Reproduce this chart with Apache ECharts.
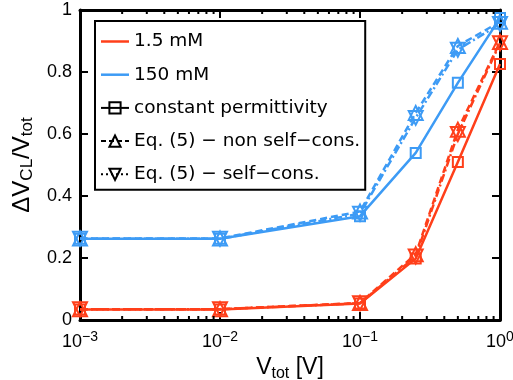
<!DOCTYPE html>
<html>
<head>
<meta charset="utf-8">
<script src="https://cdn.jsdelivr.net/npm/echarts@6/dist/echarts.min.js"></script>
<style>
html,body{margin:0;padding:0;background:#fff;}
#chart{width:513px;height:380px;}
</style>
</head>
<body>
<div id="chart"></div>
<script>
// ---- data ----
var xValues = [0.001, 0.01, 0.1, 0.25, 0.5, 1];
var red_const   = [0.034, 0.034, 0.053, 0.198, 0.510, 0.826];
var red_nonself = [0.035, 0.035, 0.055, 0.212, 0.614, 0.897];
var red_self    = [0.035, 0.035, 0.054, 0.205, 0.600, 0.893];
var blue_const   = [0.262, 0.262, 0.335, 0.539, 0.765, 0.974];
var blue_nonself = [0.263, 0.263, 0.350, 0.668, 0.884, 0.962];
var blue_self    = [0.262, 0.262, 0.343, 0.652, 0.872, 0.955];
var xTickExps = ['−3', '−2', '−1', '0'];
var yTickLabels = ['0', '0.2', '0.4', '0.6', '0.8', '1'];
var minorTicks = [0.002,0.003,0.004,0.005,0.006,0.007,0.008,0.009,
                  0.02,0.03,0.04,0.05,0.06,0.07,0.08,0.09,
                  0.2,0.3,0.4,0.5,0.6,0.7,0.8,0.9];
var legendNames = ['1.5 mM', '150 mM', 'constant permittivity', 'Eq. (5) − non self−cons.', 'Eq. (5) − self−cons.'];

var RED = '#ff3f1a', BLUE = '#3d9bf5';
var FONT = 'Liberation Sans, Arial, Helvetica, sans-serif';
var LFONT = 'DejaVu Sans, sans-serif';
var DASH = [7, 4], DASHDOT = [8, 3, 2, 3];

function pairs(arr){ return xValues.map(function(x,i){ return [x, arr[i]]; }); }

function dataSeries(arr, color, kind){
  var s = {
    type: 'line', data: pairs(arr), z: color === RED ? 4 : 3,
    lineStyle: {color: color, width: 2.5, type: 'solid'},
    itemStyle: {color: 'transparent', borderColor: color, borderWidth: 2},
    symbol: 'rect', symbolSize: 10, showSymbol: true, silent: true, animation: false
  };
  if (kind === 'nonself') { s.lineStyle.type = DASH; s.symbol = 'triangle'; s.symbolSize = 14; }
  if (kind === 'self') { s.lineStyle.type = DASHDOT; s.symbol = 'triangle'; s.symbolSize = 14; s.symbolRotate = 180; }
  return s;
}

function legendSeries(name, color, kind){
  var s = {type:'line', name: name, data: [], animation:false,
    lineStyle:{color: color, width: 2.5, type: 'solid'},
    itemStyle:{color: color}};
  if (kind) {
    s.itemStyle = {color: 'transparent', borderColor: color, borderWidth: 2};
    s.symbol = kind === 'const' ? 'rect' : 'triangle';
    if (kind === 'nonself') s.lineStyle.type = [5, 3];
    if (kind === 'self') { s.lineStyle.type = [2, 3]; s.symbolRotate = 180; }
  }
  return s;
}

var lineIcon = 'path://M0,0 L28,0 L28,2.5 L0,2.5 Z';

var chart = echarts.init(document.getElementById('chart'), null, {renderer:'canvas'});
var option = {
  animation: false,
  backgroundColor: '#fff',
  grid: {left: 80, right: 13, top: 10, bottom: 60, containLabel: false, outerBoundsMode: 'none'},
  legend: {
    orient: 'vertical', left: 95, top: 21,
    itemWidth: 28, itemHeight: 14, itemGap: 14.2,
    padding: [11, 5, 6, 5],
    borderColor: '#000', borderWidth: 2, backgroundColor: '#fff',
    textStyle: {fontFamily: LFONT, fontSize: 18.5, color: '#000'},
    selectedMode: false,
    data: [
      {name: legendNames[0], icon: lineIcon},
      {name: legendNames[1], icon: lineIcon},
      {name: legendNames[2]},
      {name: legendNames[3]},
      {name: legendNames[4]}
    ]
  },
  xAxis: [{
    type: 'log', logBase: 10, min: 0.001, max: 1, position: 'bottom',
    axisLine: {show: true, onZero: false, lineStyle: {color: '#000', width: 3}},
    axisTick: {show: true, inside: true, length: 8, lineStyle: {color: '#000', width: 2}},
    splitLine: {show: false},
    axisLabel: {
      margin: 10, color: '#000', fontFamily: FONT,
      formatter: function(v, i){
        var e = Math.round(Math.log(v) / Math.LN10);
        return '{a|10}{b|' + xTickExps[e + 3] + '}';
      },
      rich: {
        a: {fontSize: 18, fontFamily: FONT, color: '#000', lineHeight: 24},
        b: {fontSize: 14, fontFamily: FONT, color: '#000', lineHeight: 14, verticalAlign: 'top'}
      }
    },
    name: '{d|V}{s|tot}{d| [V]}', nameLocation: 'middle', nameGap: 22,
    nameTextStyle: {
      rich: {
        d: {fontSize: 23, fontFamily: FONT, color: '#000', lineHeight: 28},
        s: {fontSize: 16, fontFamily: FONT, color: '#000', lineHeight: 16, verticalAlign: 'bottom'}
      }
    }
  }, {
    type: 'log', logBase: 10, min: 0.001, max: 1, position: 'top',
    axisLine: {show: true, onZero: false, lineStyle: {color: '#000', width: 3}},
    axisTick: {show: true, inside: true, length: 8, lineStyle: {color: '#000', width: 2}},
    axisLabel: {show: false}, splitLine: {show: false}
  }],
  yAxis: [{
    type: 'value', min: 0, max: 1, interval: 0.2, position: 'left',
    axisLine: {show: true, onZero: false, lineStyle: {color: '#000', width: 3}},
    axisTick: {show: true, inside: true, length: 8, lineStyle: {color: '#000', width: 2}},
    splitLine: {show: false},
    axisLabel: {
      margin: 8, color: '#000', fontFamily: FONT, fontSize: 18,
      formatter: function(v, i){ return yTickLabels[Math.round(v / 0.2)]; }
    },
    name: '{d|ΔV}{s|CL}{d|/V}{s|tot}', nameLocation: 'middle', nameGap: 34, nameRotate: 90,
    nameTextStyle: {
      rich: {
        d: {fontSize: 24, fontFamily: FONT, color: '#000', lineHeight: 28},
        s: {fontSize: 17, fontFamily: FONT, color: '#000', lineHeight: 17, verticalAlign: 'bottom'}
      }
    }
  }, {
    type: 'value', min: 0, max: 1, interval: 0.2, position: 'right',
    axisLine: {show: true, onZero: false, lineStyle: {color: '#000', width: 3}},
    axisTick: {show: true, inside: true, length: 8, lineStyle: {color: '#000', width: 2}},
    axisLabel: {show: false}, splitLine: {show: false}
  }],
  series: [
    dataSeries(blue_const, BLUE, 'const'),
    dataSeries(blue_nonself, BLUE, 'nonself'),
    dataSeries(blue_self, BLUE, 'self'),
    dataSeries(red_const, RED, 'const'),
    dataSeries(red_nonself, RED, 'nonself'),
    dataSeries(red_self, RED, 'self'),
    legendSeries(legendNames[0], RED),
    legendSeries(legendNames[1], BLUE),
    legendSeries(legendNames[2], '#000', 'const'),
    legendSeries(legendNames[3], '#000', 'nonself'),
    legendSeries(legendNames[4], '#000', 'self'),
    {
      type: 'custom', silent: true, clip: false, z: 6,
      data: minorTicks.map(function(v){ return [v, 0]; }),
      encode: {x: 0, y: 1},
      renderItem: function(params, api){
        var v = api.value(0);
        var b = api.coord([v, 0]);
        var t = api.coord([v, 1]);
        var st = {stroke: '#000', lineWidth: 2};
        return {type: 'group', children: [
          {type: 'line', shape: {x1: b[0], y1: b[1], x2: b[0], y2: b[1] - 4}, style: st},
          {type: 'line', shape: {x1: t[0], y1: t[1], x2: t[0], y2: t[1] + 4}, style: st}
        ]};
      }
    }
  ]
};
chart.setOption(option);
</script>
</body>
</html>
